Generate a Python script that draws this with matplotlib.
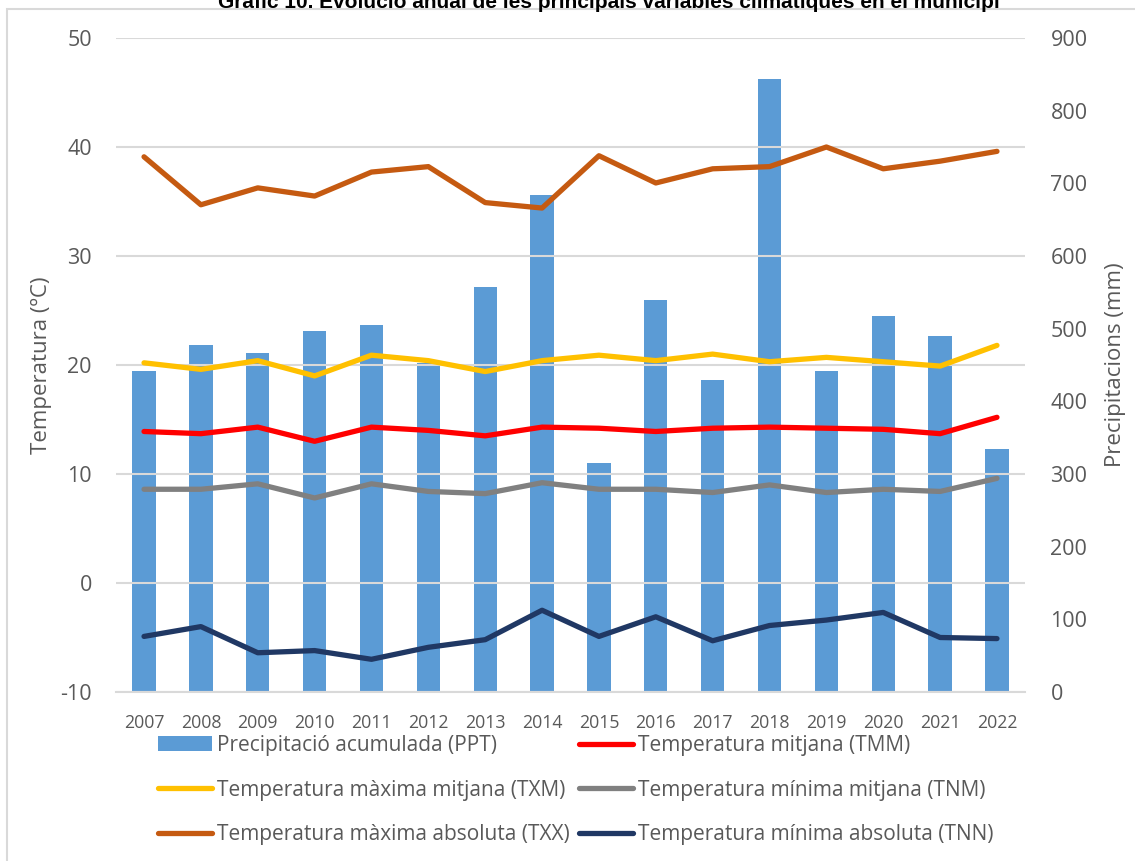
import matplotlib
matplotlib.use("Agg")
import matplotlib.pyplot as plt
from matplotlib.lines import Line2D
from matplotlib.patches import Patch, Rectangle
import numpy as np

years = ["2007", "2008", "2009", "2010", "2011", "2012", "2013", "2014",
         "2015", "2016", "2017", "2018", "2019", "2020", "2021", "2022"]
ppt = [442, 478, 466, 497, 505, 453, 557, 684, 315, 540, 429, 843, 442, 518, 490, 334]
tmm = [13.9, 13.7, 14.3, 13.0, 14.3, 14.0, 13.5, 14.3, 14.2, 13.9, 14.2, 14.3, 14.2, 14.1, 13.7, 15.2]
txm = [20.2, 19.6, 20.4, 19.0, 20.9, 20.4, 19.4, 20.4, 20.9, 20.4, 21.0, 20.3, 20.7, 20.3, 19.9, 21.8]
tnm = [8.6, 8.6, 9.1, 7.8, 9.1, 8.4, 8.2, 9.2, 8.6, 8.6, 8.3, 9.0, 8.3, 8.6, 8.4, 9.6]
txx = [39.1, 34.7, 36.25, 35.5, 37.7, 38.2, 34.9, 34.4, 39.2, 36.7, 38.0, 38.2, 40.0, 38.0, 38.7, 39.6]
tnn = [-4.9, -4.0, -6.4, -6.2, -7.0, -5.9, -5.2, -2.5, -4.9, -3.1, -5.3, -3.9, -3.4, -2.7, -5.0, -5.1]

labels = {
    "ppt": "Precipitació acumulada (PPT)",
    "tmm": "Temperatura mitjana (TMM)",
    "txm": "Temperatura màxima mitjana (TXM)",
    "tnm": "Temperatura mínima mitjana (TNM)",
    "txx": "Temperatura màxima absoluta (TXX)",
    "tnn": "Temperatura mínima absoluta (TNN)",
}
colors = {
    "ppt": "#5B9BD5", "tmm": "#FF0000", "txm": "#FFC000",
    "tnm": "#808080", "txx": "#C55A11", "tnn": "#203864",
}
title = "Gràfic 10. Evolució anual de les principals variables climàtiques en el municipi"

TXT = "#595959"
GRID = "#D9D9D9"
FONT = ["Open Sans", "DejaVu Sans"]
plt.rcParams["font.family"] = FONT
plt.rcParams["axes.unicode_minus"] = False

W, H = 1135, 861
fig = plt.figure(figsize=(W / 100, H / 100), dpi=100)
fig.patch.set_facecolor("white")

left, right, top, bottom = 115.6, 1025.4, 38, 692
ax = fig.add_axes([left / W, 1 - bottom / H, (right - left) / W, (bottom - top) / H])
ax2 = ax.twinx()

x = np.arange(len(years))

# bars (precipitation) on the right axis
ax2.bar(x, ppt, width=0.41, color=colors["ppt"], zorder=1)
ax2.set_ylim(0, 900)
ax2.set_yticks(np.arange(0, 901, 100))

# lines (temperature) on the left axis, drawn on top
ax.set_zorder(ax2.get_zorder() + 1)
ax.patch.set_visible(False)
lw = 3.8
for key, vals in [("txx", txx), ("txm", txm), ("tmm", tmm), ("tnm", tnm), ("tnn", tnn)]:
    ax.plot(x, vals, color=colors[key], lw=lw, solid_capstyle="round",
            solid_joinstyle="round", zorder=3)

ax.set_ylim(-10, 50)
ax.set_yticks(np.arange(-10, 51, 10))
ax.set_xlim(-0.5, len(years) - 0.5)
ax.set_xticks(x)
ax.set_xticklabels(years)
ax.grid(axis="y", color=GRID, lw=1.5, zorder=0)
ax.set_axisbelow(False)

for a in (ax, ax2):
    for s in a.spines.values():
        s.set_visible(False)
ax.spines["bottom"].set_visible(True)
ax.spines["bottom"].set_color(GRID)
ax.spines["bottom"].set_linewidth(1.5)

ax.tick_params(axis="y", length=0, pad=17, labelsize=15.5, labelcolor=TXT)
ax.tick_params(axis="x", length=0, pad=16, labelsize=12.8, labelcolor=TXT)
ax2.tick_params(axis="y", length=0, pad=18, labelsize=15.5, labelcolor=TXT)

ax.set_ylabel("Temperatura (ºC)", fontsize=16, color=TXT)
ax.yaxis.set_label_coords((52 - left) / (right - left), 0.5)
ax2.set_ylabel("Precipitacions (mm)", fontsize=16, color=TXT)
ax2.yaxis.set_label_coords((1105 - left) / (right - left), 0.5)

# title (partly cut by the top edge, as in the original)
fig.text(609 / W, 1 - 7.5 / H, title, ha="center", va="baseline",
         fontsize=15, fontweight="bold", color="black",
         family=["Liberation Sans", "DejaVu Sans"])

# outer chart border
fig.add_artist(Rectangle((7 / W, -0.05), 1.2, (1 - 9 / H) + 0.05,
                         transform=fig.transFigure, fill=False,
                         edgecolor=GRID, lw=1.5, clip_on=False))

# legend in two columns
def h_line(key):
    return Line2D([0], [0], color=colors[key], lw=lw, solid_capstyle="round")

col1 = [(Patch(facecolor=colors["ppt"]), labels["ppt"]),
        (h_line("txm"), labels["txm"]),
        (h_line("txx"), labels["txx"])]
col2 = [(h_line("tmm"), labels["tmm"]),
        (h_line("tnm"), labels["tnm"]),
        (h_line("tnn"), labels["tnn"])]

leg_kw = dict(loc="upper left", frameon=False, borderpad=0, borderaxespad=0,
              handlelength=2.6, handleheight=0.7, handletextpad=0.25,
              labelspacing=1.13, labelcolor=TXT,
              prop={"family": FONT, "size": 15},
              bbox_transform=fig.transFigure)
leg1 = fig.legend([h for h, _ in col1], [l for _, l in col1],
                  bbox_to_anchor=(158 / W, 1 - 735 / H), **leg_kw)
leg2 = fig.legend([h for h, _ in col2], [l for _, l in col2],
                  bbox_to_anchor=(579 / W, 1 - 735 / H), **leg_kw)

fig.savefig("out.png", dpi=100, facecolor="white")
